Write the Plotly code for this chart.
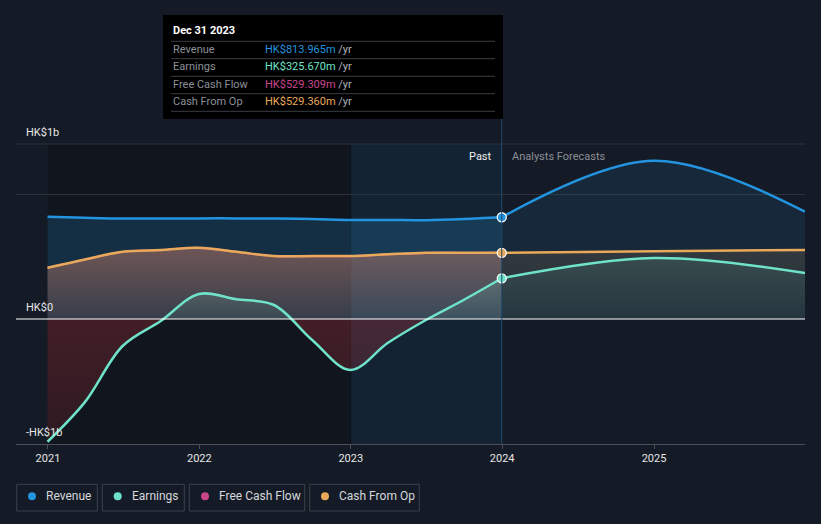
import plotly.graph_objects as go

# ---------------- data (HK$ millions) ----------------
past_dates = ["2020-12-31", "2021-03-31", "2021-06-30", "2021-09-30", "2021-12-31",
              "2022-03-31", "2022-06-30", "2022-09-30", "2022-12-31",
              "2023-03-31", "2023-06-30", "2023-09-30", "2023-12-31"]
fc_dates = ["2023-12-31", "2024-12-31", "2025-12-31"]

revenue_past = [818, 810, 804, 804, 805, 805, 804, 800, 792, 792, 791, 800, 813.965]
revenue_fc = [813.965, 1266, 858]

earnings_past = [-982, -665, -216, -16, 200, 158, 112, -168, -408, -192, -10, 152, 325.670]
earnings_fc = [325.670, 488, 368]

fcf_past = [409, 475, 537, 551, 569, 537, 503, 503, 503, 517, 529, 529, 529.309]

cfo_past = [410, 476, 538, 552, 570, 538, 504, 504, 504, 518, 530, 530, 529.360]
cfo_fc = [529.360, 542, 552]

x_ticks = ["2021-01-01", "2022-01-01", "2023-01-01", "2024-01-01", "2025-01-01"]
tick_text = ["2021", "2022", "2023", "2024", "2025"]
y_labels = ["HK$1b", "HK$0", "-HK$1b"]

tooltip_title = "Dec 31 2023"
tooltip_rows = [("Revenue", "HK$813.965m"), ("Earnings", "HK$325.670m"),
                ("Free Cash Flow", "HK$529.309m"), ("Cash From Op", "HK$529.360m")]
legend_names = ["Revenue", "Earnings", "Free Cash Flow", "Cash From Op"]

# ---------------- styling ----------------
C_REV = "#2394df"
C_EARN = "#6fe3c9"
C_FCF = "#c9468c"
C_CFO = "#e9a95a"
BG = "#151b26"
FONT = "Roboto, 'Open Sans', sans-serif"

W, H = 821, 524
L, R, T, B = 16, 16, 144, 80
PW, PH = W - L - R, H - T - B


def px(x):
    return (x - L) / PW


def py(y):
    return (H - B - y) / PH


fig = go.Figure()

# revenue fills + lines
fig.add_trace(go.Scatter(x=past_dates, y=revenue_past, mode="lines", line=dict(color=C_REV, width=2.5, shape="spline"),
                         fill="tozeroy", fillcolor="rgba(35,148,223,0.20)", hoverinfo="skip"))
fig.add_trace(go.Scatter(x=fc_dates, y=revenue_fc, mode="lines", line=dict(color=C_REV, width=2.5, shape="spline"),
                         fill="tozeroy", fillcolor="rgba(35,148,223,0.11)", hoverinfo="skip"))

# free cash flow (past only)
fig.add_trace(go.Scatter(x=past_dates, y=fcf_past, mode="lines", line=dict(color=C_FCF, width=2, shape="spline"),
                         fill="tozeroy",
                         fillgradient=dict(type="vertical", start=0, stop=600,
                                           colorscale=[[0, "rgba(201,70,140,0.05)"], [1, "rgba(201,70,140,0.22)"]]),
                         hoverinfo="skip"))

# cash from op
fig.add_trace(go.Scatter(x=past_dates, y=cfo_past, mode="lines", line=dict(color=C_CFO, width=2.5, shape="spline"),
                         fill="tozeroy",
                         fillgradient=dict(type="vertical", start=0, stop=600,
                                           colorscale=[[0, "rgba(233,169,90,0.12)"], [1, "rgba(233,169,90,0.30)"]]),
                         hoverinfo="skip"))
fig.add_trace(go.Scatter(x=fc_dates, y=cfo_fc, mode="lines", line=dict(color=C_CFO, width=2.5, shape="spline"),
                         fill="tozeroy",
                         fillgradient=dict(type="vertical", start=0, stop=600,
                                           colorscale=[[0, "rgba(233,169,90,0.06)"], [1, "rgba(233,169,90,0.14)"]]),
                         hoverinfo="skip"))

# earnings
fig.add_trace(go.Scatter(x=past_dates, y=earnings_past, mode="lines",
                         line=dict(color=C_EARN, width=2.5, shape="spline", smoothing=1),
                         fill="tozeroy",
                         fillgradient=dict(type="vertical", start=-1000, stop=1000,
                                           colorscale=[[0, "rgba(210,55,65,0.14)"], [0.4999, "rgba(210,55,65,0.26)"],
                                                       [0.5, "rgba(111,227,201,0.06)"], [0.75, "rgba(111,227,201,0.25)"],
                                                       [1, "rgba(111,227,201,0.32)"]]),
                         hoverinfo="skip"))
fig.add_trace(go.Scatter(x=fc_dates, y=earnings_fc, mode="lines", line=dict(color=C_EARN, width=2.5, shape="spline"),
                         fill="tozeroy",
                         fillgradient=dict(type="vertical", start=0, stop=600,
                                           colorscale=[[0, "rgba(111,227,201,0.03)"], [1, "rgba(111,227,201,0.13)"]]),
                         hoverinfo="skip"))

# markers at Dec 31 2023
for vals, col in [(revenue_past, C_REV), (cfo_past, C_CFO), (earnings_past, C_EARN)]:
    fig.add_trace(go.Scatter(x=[past_dates[-1]], y=[vals[-1]], mode="markers",
                             marker=dict(color=col, size=9, line=dict(color="#ffffff", width=1.3)),
                             hoverinfo="skip"))

shapes = []
# darker past zone and highlighted last year
shapes.append(dict(type="rect", xref="x", yref="paper", x0="2020-12-31", x1="2023-01-01", y0=0, y1=1,
                   fillcolor="#11151d", line=dict(width=0), layer="below"))
shapes.append(dict(type="rect", xref="x", yref="paper", x0="2023-01-01", x1="2023-12-31", y0=0, y1=1,
                   fillcolor="rgba(20,80,125,0.16)", line=dict(width=0), layer="below"))
shapes.append(dict(type="line", xref="x", yref="paper", x0="2023-01-01", x1="2023-01-01", y0=0, y1=1,
                   line=dict(color="rgba(10,14,20,0.6)", width=1), layer="below"))
# top gridline
shapes.append(dict(type="line", xref="paper", yref="paper", x0=0, x1=1, y0=1, y1=1,
                   line=dict(color="#2c313b", width=1), layer="below"))
# zero line
shapes.append(dict(type="line", xref="paper", yref="y", x0=0, x1=1, y0=0, y1=0,
                   line=dict(color="#ffffff", width=1.2), layer="above"))
# vertical hover line
shapes.append(dict(type="line", xref="x", yref="paper", x0="2023-12-31", x1="2023-12-31", y0=0, y1=py(15),
                   line=dict(color="#1f4a6b", width=1), layer="above"))
# tooltip box
shapes.append(dict(type="rect", xref="paper", yref="paper", x0=px(163), x1=px(503), y0=py(119), y1=py(15),
                   fillcolor="#000000", line=dict(width=0), layer="above"))
for ys in [41.3, 58.7, 76.3, 93.7, 111.3]:
    shapes.append(dict(type="line", xref="paper", yref="paper", x0=px(171), x1=px(495), y0=py(ys), y1=py(ys),
                       line=dict(color="#3a3d44", width=1), layer="above"))

annotations = []


def ann(x, y, text, color, size=11, anchor="left", **kw):
    annotations.append(dict(x=px(x), y=py(y), xref="paper", yref="paper", text=text, showarrow=False,
                            xanchor=anchor, yanchor="middle", font=dict(color=color, size=size, family=FONT), **kw))


ann(171, 31, "<b>" + tooltip_title + "</b>", "#ffffff", 11)
row_y = [49.3, 66.7, 84.3, 101.3]
row_cols = [C_REV, C_EARN, C_FCF, C_CFO]
for (lab, val), yy, col in zip(tooltip_rows, row_y, row_cols):
    ann(171, yy, lab, "#8b9098", 11)
    ann(263, yy, "<span style='color:%s'>%s</span> /yr" % (col, val), "#b0b4ba", 11)

ann(494, 156, "Past", "#eeeeee", 11, anchor="right")
ann(510, 156, "Analysts Forecasts", "#8a8e95", 11)

for lab, yy in zip(y_labels, [132.3, 307.3, 432.3]):
    ann(24, yy, lab, "#e6e6e6", 11)

# custom legend
boxes = [(16.7, 97.3), (102.3, 184.3), (189.3, 304.7), (309.7, 419.3)]
dots = [32, 117.7, 205, 325]
texts = [44.3, 130, 217.3, 337.3]
for name, (x0, x1), dx, tx, col in zip(legend_names, boxes, dots, texts, row_cols):
    shapes.append(dict(type="rect", xref="paper", yref="paper", x0=px(x0), x1=px(x1), y0=py(511), y1=py(484.3),
                       fillcolor="rgba(0,0,0,0)", line=dict(color="#3b404a", width=1)))
    shapes.append(dict(type="circle", xref="paper", yref="paper", x0=px(dx - 4), x1=px(dx + 4),
                       y0=py(496.3 + 4), y1=py(496.3 - 4), fillcolor=col, line=dict(width=0)))
    ann(tx, 496.3, name, "#d6d8dc", 12)

fig.update_layout(
    width=W, height=H,
    margin=dict(l=L, r=R, t=T, b=B, pad=0),
    paper_bgcolor=BG, plot_bgcolor=BG,
    showlegend=False,
    font=dict(family=FONT, color="#dddddd", size=11),
    shapes=shapes, annotations=annotations,
    xaxis=dict(type="date", range=["2020-10-16", "2025-12-31"], tickvals=x_ticks, ticktext=tick_text,
               showgrid=False, zeroline=False, showline=True, linecolor="#4a4f58", linewidth=1,
               ticks="outside", ticklen=4, tickcolor="#4a4f58", tickfont=dict(color="#e6e6e6", size=11, family=FONT),
               fixedrange=True),
    yaxis=dict(range=[-1000, 1400], tickvals=[1000], showticklabels=False, showgrid=True,
               gridcolor="#2c313b", gridwidth=1, zeroline=False, showline=False, fixedrange=True),
    hovermode=False,
)

fig.write_html("out.html", config={"displayModeBar": False},
               post_script="document.body.style.margin='0';document.body.style.padding='0';"
                           "document.body.style.background='#151b26';document.body.style.overflow='hidden';")
